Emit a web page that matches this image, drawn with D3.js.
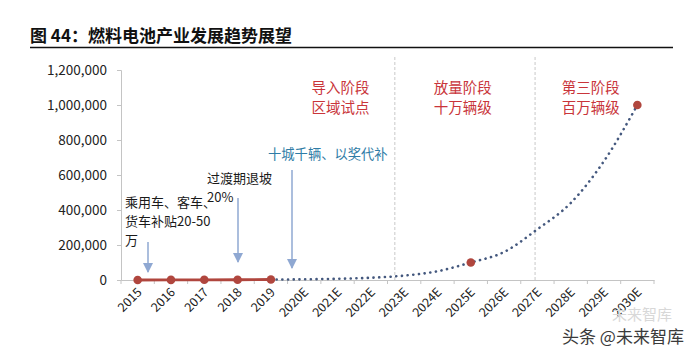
<!DOCTYPE html>
<html><head><meta charset="utf-8">
<script src="https://cdn.jsdelivr.net/npm/d3@7"></script>
<style>
html,body{margin:0;padding:0;background:#fff;}
svg{display:block;font-family:"Noto Sans CJK SC","Noto Sans",sans-serif;}
</style></head>
<body>
<svg id="chart" width="700" height="356"></svg>
<script>
const categories = ["2015","2016","2017","2018","2019","2020E","2021E","2022E","2023E","2024E","2025E","2026E","2027E","2028E","2029E","2030E"];
const actualCats = ["2015","2016","2017","2018","2019"];
const actualValues = [10, 629, 1272, 1527, 2737];
const forecastCats = ["2019","2020E","2021E","2022E","2023E","2024E","2025E","2026E","2027E","2028E","2029E","2030E"];
const forecastValues = [2737, 4000, 7000, 13000, 25000, 50000, 100000, 160000, 290000, 440000, 680000, 1000000];
const forecastMarked = ["2025E","2030E"];
const yTicks = [0, 200000, 400000, 600000, 800000, 1000000, 1200000];
const titleText = "图 44：燃料电池产业发展趋势展望";
const stageLabels = [["导入阶段","区域试点"],["放量阶段","十万辆级"],["第三阶段","百万辆级"]];
const policyNotes = [["乘用车、客车、","货车补贴20-50","万"],["过渡期退坡","20%"],["十城千辆、以奖代补"]];

(function(){
const svg = d3.select("#chart");
const left = 121, right = 654, plotTop = 70, bottom = 280;

const x = d3.scaleBand().domain(categories).range([left, right]).padding(0);
const cx = c => x(c) + x.bandwidth() / 2;
const xi = d3.scaleLinear().domain([0, categories.length - 1]).range([cx(categories[0]), cx(categories[categories.length - 1])]);
const y = d3.scaleLinear().domain([0, 1200000]).range([bottom, plotTop]);

// Title
svg.append("text").attr("x", 30).attr("y", 42).attr("font-size", 17).attr("font-weight", "bold")
  .attr("fill", "#111").text(titleText);
svg.append("line").attr("x1", 30).attr("x2", 673).attr("y1", 47.5).attr("y2", 47.5)
  .attr("stroke", "#111").attr("stroke-width", 1.6);

// Stage dividers
[7.72, 11.93].forEach(p => {
  svg.append("line").attr("x1", xi(p)).attr("x2", xi(p)).attr("y1", 57).attr("y2", bottom)
    .attr("stroke", "#c8c8c8").attr("stroke-width", 1).attr("stroke-dasharray", "3,2");
});

// Y axis
const yAxis = d3.axisLeft(y).tickValues(yTicks).tickSize(4).tickPadding(10).tickFormat(d3.format(","));
const yg = svg.append("g").attr("transform", `translate(${left},0)`).call(yAxis);
yg.select(".domain").attr("stroke", "#c4c4c4");
yg.selectAll(".tick line").attr("stroke", "#c4c4c4");
yg.selectAll(".tick text").attr("font-size", 13.5).attr("fill", "#222")
  .attr("font-family", "'Noto Sans CJK SC','Noto Sans',sans-serif");

// X axis
const xAxis = d3.axisBottom(x).tickSize(0).tickFormat(d => d);
const xg = svg.append("g").attr("transform", `translate(0,${bottom})`).call(xAxis);
xg.select(".domain").attr("stroke", "#c4c4c4");
xg.selectAll(".tick text").attr("font-size", 12.5).attr("fill", "#222")
  .attr("text-anchor", "end").attr("dy", 0).attr("y", 0)
  .attr("transform", "translate(5,13) rotate(-45)")
  .attr("font-family", "'Noto Sans CJK SC','Noto Sans',sans-serif");
const bounds = categories.map(c => x(c)).concat([right]);
xg.selectAll("line.bt").data(bounds).enter().append("line").attr("class", "bt")
  .attr("x1", d => d).attr("x2", d => d).attr("y1", 0).attr("y2", 4).attr("stroke", "#c4c4c4");

// Forecast dotted curve
const fData = forecastCats.map((c, i) => ({c, v: forecastValues[i]}));
svg.append("path").datum(fData)
  .attr("d", d3.line().x(d => cx(d.c)).y(d => y(d.v)).curve(d3.curveMonotoneX))
  .attr("fill", "none").attr("stroke", "#44587e").attr("stroke-width", 2.6)
  .attr("stroke-linecap", "round").attr("stroke-dasharray", "0.1,5.6");
svg.selectAll("circle.fm").data(fData.filter(d => forecastMarked.includes(d.c))).enter()
  .append("circle").attr("class", "fm").attr("cx", d => cx(d.c)).attr("cy", d => y(d.v))
  .attr("r", 4.3).attr("fill", "#b0463e");

// Actual red line
const aData = actualCats.map((c, i) => ({c, v: actualValues[i]}));
svg.append("path").datum(aData)
  .attr("d", d3.line().x(d => cx(d.c)).y(d => y(d.v)))
  .attr("fill", "none").attr("stroke", "#b0463e").attr("stroke-width", 2.8);
svg.selectAll("circle.am").data(aData).enter().append("circle").attr("class", "am")
  .attr("cx", d => cx(d.c)).attr("cy", d => y(d.v)).attr("r", 4.3).attr("fill", "#b0463e");

// Stage labels
const stageX = [6.09, 9.76, 13.6];
stageLabels.forEach((lines, i) => {
  lines.forEach((t, j) => {
    svg.append("text").attr("x", xi(stageX[i])).attr("y", 92.5 + j * 20.5)
      .attr("text-anchor", "middle").attr("font-size", 14.5).attr("fill", "#c9353a").text(t);
  });
});

// Policy notes
const noteStyle = [
  {x: 125, y0: 207, dy: 19, color: "#1a1a1a", size: 13},
  {x: 207, y0: 183, dy: 19, color: "#1a1a1a", size: 13},
  {x: 268, y0: 159, dy: 19, color: "#2f7ca6", size: 13.3}
];
policyNotes.forEach((lines, i) => {
  const s = noteStyle[i];
  lines.forEach((t, j) => {
    svg.append("text").attr("x", s.x).attr("y", s.y0 + j * s.dy)
      .attr("font-size", s.size).attr("fill", s.color).text(t);
  });
});

// Arrows
const defs = svg.append("defs");
defs.append("marker").attr("id", "ah").attr("viewBox", "0 0 10 10").attr("refX", 9).attr("refY", 5)
  .attr("markerWidth", 7).attr("markerHeight", 7).attr("markerUnits", "strokeWidth").attr("orient", "auto")
  .append("path").attr("d", "M0,0 L10,5 L0,10 Z").attr("fill", "#8fa8d2");
const arrows = [[148, 242, 272], [238, 198, 262], [292, 170, 268]];
arrows.forEach(a => {
  svg.append("line").attr("x1", a[0]).attr("x2", a[0]).attr("y1", a[1]).attr("y2", a[2])
    .attr("stroke", "#8fa8d2").attr("stroke-width", 1.5).attr("marker-end", "url(#ah)");
});

// Watermark
svg.append("text").attr("x", 612).attr("y", 320).attr("font-size", 15).attr("fill", "#d8d8d8").text("未来智库");
svg.append("text").attr("x", 562).attr("y", 343).attr("font-size", 17).attr("fill", "#3a3a3a").text("头条 @未来智库");
})();
</script>
</body></html>
